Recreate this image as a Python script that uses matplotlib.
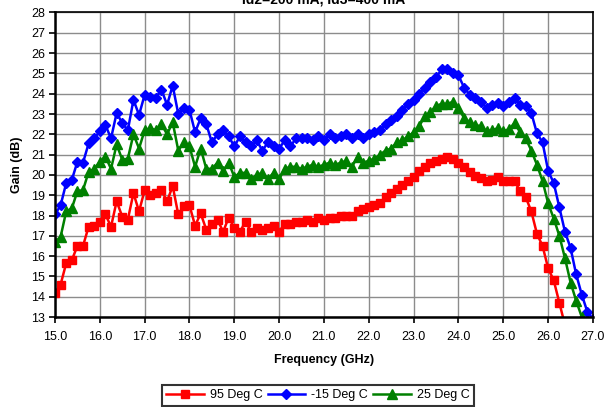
import numpy as np
import matplotlib
matplotlib.use("Agg")
import matplotlib.pyplot as plt

plt.rcParams['font.family'] = ['Liberation Sans', 'DejaVu Sans']

# swept frequency grid (GHz), 125 MHz step
freq = np.arange(14.875, 27.0 + 0.0625, 0.125)

gain_95c = [
    12.6,
    14.2, 14.6, 15.65, 15.8, 16.5, 16.5, 17.45, 17.5, 17.7, 18.05, 17.45, 18.7,
    17.95, 17.8, 19.1, 18.2, 19.25, 19.0, 19.1, 19.25, 18.7, 19.45, 18.05, 18.45,
    18.5, 17.5, 18.1, 17.3, 17.6, 17.8, 17.2, 17.9, 17.4, 17.2, 17.7, 17.2,
    17.4, 17.3, 17.4, 17.5, 17.2, 17.6, 17.6, 17.7, 17.7, 17.8, 17.7, 17.9, 17.8,
    17.9, 17.9, 18.0, 18.0, 18.0, 18.2, 18.3, 18.4, 18.5, 18.6, 18.9, 19.1,
    19.3, 19.5, 19.7, 19.9, 20.2, 20.4, 20.6, 20.7, 20.8, 20.9, 20.8, 20.6,
    20.4, 20.15, 19.95, 19.85, 19.7, 19.75, 19.9, 19.7, 19.7, 19.7, 19.2, 18.9,
    18.2, 17.1, 16.5, 15.4, 14.8, 13.7, 12.6,
]

gain_m15c = [
    16.9,
    18.05, 18.5, 19.6, 19.75, 20.65, 20.6, 21.55, 21.8, 22.15, 22.45, 21.8, 23.05,
    22.55, 22.2, 23.7, 22.95, 23.95, 23.85, 23.8, 24.2, 23.45, 24.4, 23.0, 23.3,
    23.2, 22.1, 22.8, 22.5, 21.6, 22.0, 22.2, 21.9, 21.4, 21.9, 21.6, 21.4,
    21.7, 21.2, 21.6, 21.4, 21.3, 21.7, 21.4, 21.8, 21.8, 21.8, 21.7, 21.9, 21.7,
    22.0, 21.8, 21.9, 22.0, 21.8, 22.0, 21.8, 22.0, 22.1, 22.2, 22.5, 22.7,
    22.9, 23.2, 23.5, 23.7, 24.0, 24.3, 24.6, 24.8, 25.2, 25.2, 25.0, 24.9,
    24.3, 23.95, 23.8, 23.6, 23.3, 23.45, 23.55, 23.4, 23.6, 23.8, 23.45, 23.4,
    23.05, 22.05, 21.6, 20.2, 19.6, 18.4, 17.2, 16.4, 15.1, 14.1, 13.25, 12.9,
]

gain_25c = [
    15.3,
    16.7, 16.95, 18.2, 18.35, 19.2, 19.25, 20.15, 20.3, 20.65, 20.9, 20.3, 21.5,
    20.75, 20.8, 22.0, 21.3, 22.2, 22.3, 22.2, 22.5, 22.0, 22.6, 21.2, 21.6,
    21.4, 20.4, 21.3, 20.3, 20.3, 20.6, 20.2, 20.6, 19.9, 20.1, 20.1, 19.8,
    20.0, 20.1, 19.8, 20.1, 19.8, 20.3, 20.4, 20.4, 20.3, 20.4, 20.5, 20.4, 20.5,
    20.6, 20.5, 20.6, 20.7, 20.4, 20.9, 20.6, 20.7, 20.8, 21.0, 21.2, 21.3,
    21.6, 21.7, 21.9, 22.1, 22.4, 22.9, 23.1, 23.4, 23.5, 23.5, 23.6, 23.3,
    22.8, 22.6, 22.45, 22.4, 22.15, 22.2, 22.3, 22.15, 22.25, 22.55, 22.1, 21.8,
    21.2, 20.5, 19.7, 18.6, 17.85, 17.0, 15.9, 14.7, 13.8, 13.0, 12.2,
]

series = [
    ("95 Deg C", gain_95c, "#ff0000", "s", 5.5),
    ("-15 Deg C", gain_m15c, "#0000ff", "D", 5.0),
    ("25 Deg C", gain_25c, "#008000", "^", 6.5),
]

fig = plt.figure(figsize=(6.09, 4.07), dpi=100)
ax = fig.add_axes([0.0903, 0.2211, 0.8834, 0.7482])

for name, vals, color, mk, ms in series:
    ax.plot(freq[:len(vals)], vals, color=color, lw=1.8, marker=mk,
            markersize=ms, markeredgecolor=color, label=name)

ax.set_xlim(15.0, 27.0)
ax.set_ylim(13, 28)
ax.set_xticks(np.arange(15.0, 27.5, 1.0))
ax.set_yticks(np.arange(13, 29, 1))
ax.xaxis.set_major_formatter(matplotlib.ticker.FormatStrFormatter('%.1f'))
ax.grid(True, color='#8c8c8c', lw=1.0)
ax.set_axisbelow(True)

for side in ['top', 'right']:
    ax.spines[side].set_linewidth(1.2)
for side in ['left', 'bottom']:
    ax.spines[side].set_linewidth(1.8)
ax.tick_params(axis='both', direction='out', length=4, width=1.2,
               labelsize=9, colors='black')
ax.tick_params(axis='x', pad=6)
ax.tick_params(axis='y', pad=3)

ax.set_xlabel('Frequency (GHz)', fontsize=9, fontweight='bold', labelpad=8)
ax.set_ylabel('Gain (dB)', fontsize=9, fontweight='bold', labelpad=6)

# title sits at the very top edge of the figure
fig.text(0.532, 1 - 4.0 / 407, 'Id2=200 mA, Id3=400 mA', fontsize=10,
         fontweight='bold', ha='center', va='baseline')

leg = fig.legend(loc='lower center', bbox_to_anchor=(0.522, -0.012), ncol=3,
                 fontsize=9, frameon=True, fancybox=False, handlelength=3.0,
                 handletextpad=0.5, columnspacing=0.4, borderpad=0.35)
leg.get_frame().set_edgecolor('black')
leg.get_frame().set_linewidth(1.5)

fig.savefig('out.png', dpi=100)
